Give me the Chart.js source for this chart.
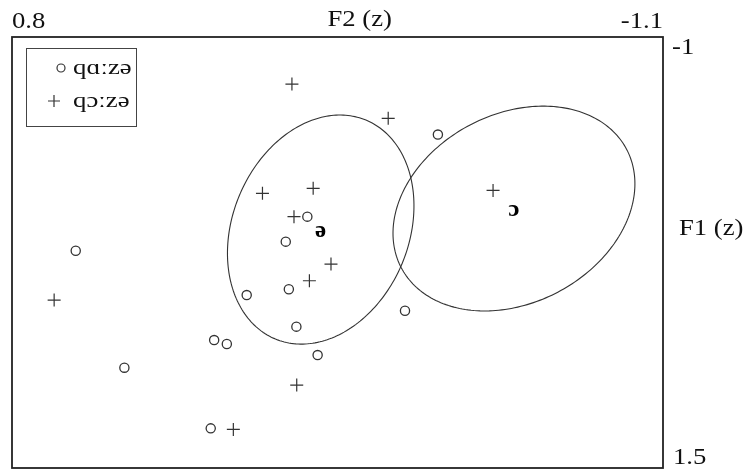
<!DOCTYPE html>
<html><head><meta charset="utf-8">
<script src="https://cdn.jsdelivr.net/npm/chart.js@4/dist/chart.umd.min.js"></script>
<style>html,body{margin:0;padding:0;background:#fff}#wrap{width:744px;height:470px;position:relative}
.pre{font-family:"Liberation Serif";position:absolute;left:-999px;top:0}</style>
</head><body><div id="wrap"><canvas id="c" width="744" height="470"></canvas></div>
<span class="pre">0.8 qɑːzə qɔːzə ə ɔ</span><span class="pre" style="font-weight:bold">ə ɔ</span>
<script>
// ---- data ----
const seriesNames = ['qɑːzə', 'qɔːzə'];
// series 1 (circles): F2 (z), F1 (z)
const aF2 = [0.614, 0.472, 0.210, 0.173, 0.220, 0.115, 0.001, -0.062, -0.008, -0.030, -0.092, -0.347, -0.443];
const aF1 = [0.240, 0.918, 0.758, 0.781, 1.270, 0.497, 0.187, 0.042, 0.463, 0.680, 0.845, 0.588, -0.434];
// series 2 (crosses)
const oF2 = [-0.017, -0.298, 0.069, -0.079, -0.023, -0.131, -0.068, 0.677, -0.031, 0.154, -0.604];
const oF1 = [-0.727, -0.528, -0.093, -0.122, 0.042, 0.317, 0.414, 0.526, 1.019, 1.276, -0.110];
// tick labels / ranges
const xTicks = [0.8, -1.1];
const yTicks = [-1, 1.5];
const axisTitles = ['F2 (z)', 'F1 (z)'];
// ellipses (vowel categories): centre and semi-axis vectors in data units
const ellipseLabels = ['ə', 'ɔ'];
const ellCenterF2 = [-0.101, -0.665];
const ellCenterF1 = [0.117, -0.005];
const ellAxisA = [[-0.132, -0.635], [-0.329, -0.343]];
const ellAxisB = [[-0.238, 0.195], [-0.128, 0.485]];

const FONT = '"Liberation Serif", serif';
const INK = '#333';
const SX = 1.16; // horizontal stretch of the original figure's lettering

const toPts = (xs, ys) => xs.map((x, i) => ({x, y: ys[i]}));

function stretchedText(ctx, str, x, y, align, sx) {
  ctx.save();
  ctx.translate(x, y);
  ctx.scale(sx, 1);
  ctx.textAlign = align;
  ctx.fillText(str, 0, 0);
  ctx.restore();
}

const overlay = {
  id: 'overlay',
  afterDatasetsDraw(chart) {
    const {ctx, chartArea: ca, scales: {x, y}} = chart;
    ctx.save();
    // ellipses
    ctx.strokeStyle = INK; ctx.lineWidth = 1.1;
    for (let k = 0; k < ellipseLabels.length; k++) {
      ctx.beginPath();
      const N = 240;
      for (let i = 0; i <= N; i++) {
        const t = i / N * Math.PI * 2;
        const dx = ellCenterF2[k] + ellAxisA[k][0] * Math.cos(t) + ellAxisB[k][0] * Math.sin(t);
        const dy = ellCenterF1[k] + ellAxisA[k][1] * Math.cos(t) + ellAxisB[k][1] * Math.sin(t);
        const px = x.getPixelForValue(dx), py = y.getPixelForValue(dy);
        if (i === 0) ctx.moveTo(px, py); else ctx.lineTo(px, py);
      }
      ctx.stroke();
      ctx.fillStyle = '#000';
      ctx.font = 'bold 24px ' + FONT;
      ctx.textBaseline = 'middle';
      stretchedText(ctx, ellipseLabels[k], x.getPixelForValue(ellCenterF2[k]), y.getPixelForValue(ellCenterF1[k]) + 1, 'center', 1.05);
    }
    // frame
    ctx.strokeStyle = '#222'; ctx.lineWidth = 1.8;
    ctx.strokeRect(ca.left, ca.top, ca.right - ca.left, ca.bottom - ca.top);
    // axis texts
    ctx.fillStyle = '#111';
    ctx.font = '23px ' + FONT;
    ctx.textBaseline = 'alphabetic';
    stretchedText(ctx, String(xTicks[0]), x.getPixelForValue(xTicks[0]), ca.top - 9, 'left', SX);
    stretchedText(ctx, String(xTicks[1]), x.getPixelForValue(xTicks[1]), ca.top - 9, 'right', SX);
    stretchedText(ctx, axisTitles[0], ca.left + (ca.right - ca.left) * 0.534, ca.top - 11, 'center', SX);
    stretchedText(ctx, String(yTicks[0]), ca.right + 9, y.getPixelForValue(yTicks[0]) + 17, 'left', SX);
    stretchedText(ctx, String(yTicks[1]), ca.right + 10, y.getPixelForValue(yTicks[1]) - 4, 'left', SX);
    ctx.textBaseline = 'middle';
    stretchedText(ctx, axisTitles[1], ca.right + 16, (ca.top + ca.bottom) / 2 - 24, 'left', SX);
    // legend
    const lx = ca.left + 14, ly = ca.top + 11, lw = 110, lh = 78;
    ctx.fillStyle = '#fff';
    ctx.fillRect(lx, ly, lw, lh);
    ctx.strokeStyle = '#444'; ctx.lineWidth = 1;
    ctx.strokeRect(lx + 0.5, ly + 0.5, lw, lh);
    ctx.font = '22px ' + FONT;
    ctx.fillStyle = '#111';
    ctx.textBaseline = 'middle';
    const rows = [ly + 20, ly + 53];
    ctx.strokeStyle = INK; ctx.lineWidth = 1.2;
    ctx.beginPath(); ctx.arc(lx + 35, rows[0], 4, 0, Math.PI * 2); ctx.stroke();
    ctx.beginPath();
    ctx.moveTo(lx + 22, rows[1]); ctx.lineTo(lx + 34, rows[1]);
    ctx.moveTo(lx + 28, rows[1] - 6); ctx.lineTo(lx + 28, rows[1] + 6);
    ctx.stroke();
    stretchedText(ctx, seriesNames[0], lx + 47, rows[0], 'left', 1.22);
    stretchedText(ctx, seriesNames[1], lx + 47, rows[1], 'left', 1.22);
    ctx.restore();
  }
};

function build() {
  new Chart(document.getElementById('c'), {
    type: 'scatter',
    data: {
      datasets: [
        {label: seriesNames[0], data: toPts(aF2, aF1), pointStyle: 'circle', pointRadius: 4.6,
         borderColor: INK, backgroundColor: 'rgba(0,0,0,0)', pointBorderWidth: 1.3},
        {label: seriesNames[1], data: toPts(oF2, oF1), pointStyle: 'cross', pointRadius: 6.5,
         borderColor: INK, backgroundColor: 'rgba(0,0,0,0)', pointBorderWidth: 1.2}
      ]
    },
    options: {
      responsive: false, animation: false, devicePixelRatio: 1,
      layout: {autoPadding: false, padding: {left: 12, top: 37, right: 81, bottom: 2}},
      plugins: {legend: {display: false}, tooltip: {enabled: false}},
      scales: {
        x: {type: 'linear', min: xTicks[1], max: xTicks[0], reverse: true, display: false},
        y: {type: 'linear', min: yTicks[0], max: yTicks[1], reverse: true, display: false}
      }
    },
    plugins: [overlay]
  });
}
Promise.all([
  document.fonts.load('23px "Liberation Serif"', 'F0.8'),
  document.fonts.load('bold 24px "Liberation Serif"', 'əɔ'),
  document.fonts.load('22px "Liberation Serif"', 'qɑːzəɔ')
]).then(build, build);
</script></body></html>
